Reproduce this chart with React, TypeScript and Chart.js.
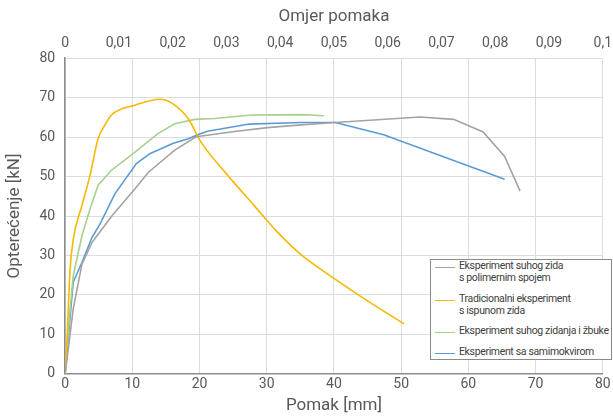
import React, { useEffect, useRef } from "react";
import { Chart, registerables } from "chart.js";

Chart.register(...registerables);

const seriesLabels = [
  "Eksperiment suhog zida s polimernim spojem",
  "Tradicionalni eksperiment s ispunom zida",
  "Eksperiment suhog zidanja i žbuke",
  "Eksperiment sa samimokvirom",
];
const legendLines = [
  ["Eksperiment suhog zida", "s polimernim spojem"],
  ["Tradicionalni eksperiment", "s ispunom zida"],
  ["Eksperiment suhog zidanja i žbuke"],
  ["Eksperiment sa samimokvirom"],
];
const seriesColors = ["#a3a3a3", "#f7b900", "#a8d08d", "#5b9bd5"];

// displacement [mm]
const greyX = [0, 1.2, 2.5, 4, 7, 10.4, 12.4, 16.3, 19.5, 25.2, 30.1, 35.1, 40.2, 52.8, 57.8, 62.2, 65.4, 67.7];
const greyY = [0, 16.4, 27.8, 33.3, 40.1, 46.9, 51.1, 56.7, 60.1, 61.4, 62.4, 63.1, 63.7, 65.1, 64.5, 61.3, 55.1, 46.3];

const yellowX = [0, 0.25, 0.74, 1.2, 2.5, 3.7, 4.9, 5.9, 6.9, 10.4, 14.1, 16.0, 18.3, 20.2, 24.2, 28.1, 31.6, 35.1, 40, 45, 50.4];
const yellowY = [0, 7.9, 26.5, 34, 42.7, 50.3, 59.6, 63, 65.6, 68.1, 69.6, 68.5, 64.7, 58.8, 50.3, 42.7, 35.9, 30.2, 24.2, 18.5, 12.7];

const greenX = [0, 0.74, 1.2, 2.5, 3.7, 4.9, 6.9, 10.4, 13.8, 16.3, 19.3, 22.2, 27.7, 35.1, 38.5];
const greenY = [0, 16.4, 24.8, 35, 41.8, 47.8, 51.6, 56.2, 60.9, 63.4, 64.5, 64.7, 65.6, 65.7, 65.4];

const blueX = [0, 1.2, 2.5, 4.0, 5.2, 7.4, 10.6, 12.6, 16.0, 18.3, 20.2, 21.2, 27.4, 35.1, 40.2, 47.4, 65.4];
const blueY = [0, 23.2, 28.2, 34.6, 38, 45.6, 53.3, 55.8, 58.4, 59.6, 60.9, 61.5, 63.3, 63.7, 63.7, 60.6, 49.3];

const xTitle = "Pomak [mm]";
const x2Title = "Omjer pomaka";
const yTitle = "Opterećenje [kN]";

const FONT = "Roboto";

function pts(xs: number[], ys: number[]) {
  return xs.map((x, i) => ({ x, y: ys[i] }));
}

export default function App() {
  const ref = useRef<HTMLCanvasElement>(null);
  useEffect(() => {
    const ctx = ref.current!;
    const data = [pts(greyX, greyY), pts(yellowX, yellowY), pts(greenX, greenY), pts(blueX, blueY)];
    const chart = new Chart(ctx, {
      type: "scatter",
      data: {
        datasets: data.map((d, i) => ({
          label: seriesLabels[i],
          data: d,
          showLine: true,
          borderColor: seriesColors[i],
          backgroundColor: seriesColors[i],
          borderWidth: 1.6,
          pointRadius: 0,
          tension: i === 1 ? 0.35 : 0,
          cubicInterpolationMode: i === 1 ? "monotone" : "default",
          xAxisID: "x",
          yAxisID: "y",
        })),
      },
      options: {
        animation: false,
        responsive: false,
        layout: { padding: { left: 5, right: 0, top: 7, bottom: 1 } },
        plugins: { legend: { display: false }, tooltip: { enabled: false } },
        scales: {
          x: {
            type: "linear",
            position: "bottom",
            min: 0,
            max: 80,
            ticks: { stepSize: 10, color: "#595959", font: { family: FONT, size: 14 }, padding: 2 },
            grid: { color: "#dcdcdc", drawTicks: false },
            border: { color: "#8c8c8c", width: 1.5 },
            title: { display: true, text: xTitle, color: "#595959", font: { family: FONT, size: 17 }, padding: { top: 1, bottom: 0 } },
          },
          x2: {
            type: "linear",
            position: "top",
            min: 0,
            max: 0.1,
            ticks: {
              stepSize: 0.01,
              color: "#595959",
              font: { family: FONT, size: 14 },
              padding: 6,
              callback: (v: any) => (v === 0 ? "0" : String(+Number(v).toFixed(2)).replace(".", ",")),
            },
            grid: { display: false, drawTicks: false },
            border: { display: false },
            title: { display: true, text: x2Title, color: "#595959", font: { family: FONT, size: 17 }, padding: { top: 0, bottom: 2 } },
          },
          y: {
            type: "linear",
            min: 0,
            max: 80,
            ticks: { stepSize: 10, color: "#595959", font: { family: FONT, size: 14 }, padding: 10 },
            grid: { color: "#dcdcdc", drawTicks: false },
            border: { color: "#8c8c8c", width: 1.5 },
            title: { display: true, text: yTitle, color: "#595959", font: { family: FONT, size: 17 }, padding: { top: 0, bottom: 4 } },
          },
        },
      },
    });
    return () => chart.destroy();
  }, []);

  return (
    <div style={{ position: "absolute", left: 0, top: 0, width: 613, height: 417, background: "#fff", overflow: "hidden" }}>
      <canvas ref={ref} width={618} height={417} style={{ display: "block" }} />
      <div
        style={{
          position: "absolute",
          left: 430,
          top: 259,
          width: 182,
          height: 101,
          border: "1.5px solid #8a8a8a",
          background: "#fff",
          fontFamily: FONT,
          fontSize: 10.5,
          letterSpacing: "-0.35px",
          color: "#404040",
          boxSizing: "border-box",
        }}
      >
        {legendLines.map((lines, i) => {
          const tops = [0, 33, 65, 86];
          return (
            <div key={i} style={{ position: "absolute", left: 4, top: tops[i], display: "flex", alignItems: "flex-start" }}>
              <div style={{ width: 20, height: 1.6, background: seriesColors[i], marginTop: 6.5, marginRight: 4 }} />
              <div style={{ lineHeight: "12px", whiteSpace: "nowrap" }}>
                {lines.map((l, j) => (
                  <div key={j}>{l}</div>
                ))}
              </div>
            </div>
          );
        })}
      </div>
    </div>
  );
}
